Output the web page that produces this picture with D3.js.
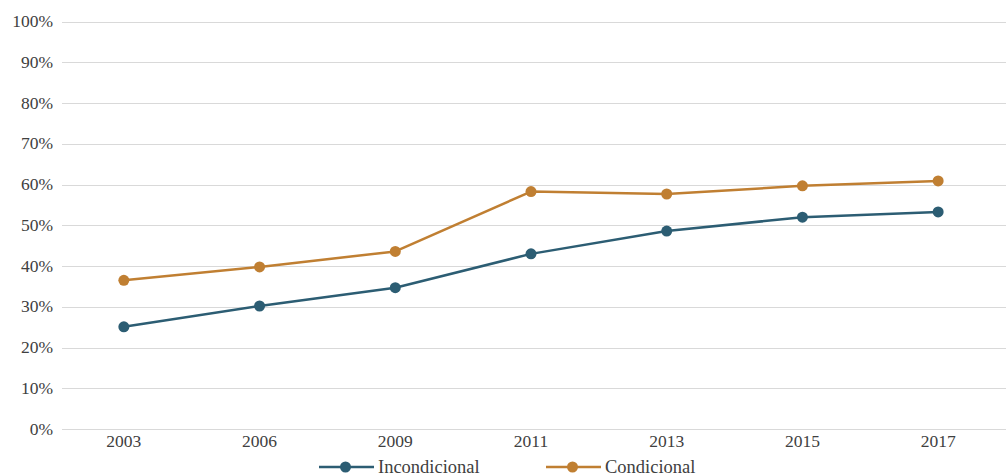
<!DOCTYPE html>
<html>
<head>
<meta charset="utf-8">
<script src="https://cdn.jsdelivr.net/npm/d3@7"></script>
<style>
  body { margin: 0; background: #fff; }
  svg { display: block; }
</style>
</head>
<body>
<svg id="chart" width="1007" height="476" font-family="'Liberation Serif', 'Times New Roman', Times, serif"></svg>
<script>
const years = ["2003", "2006", "2009", "2011", "2013", "2015", "2017"];
const incondicional = [25.1, 30.2, 34.7, 43.0, 48.6, 52.0, 53.3];
const condicional = [36.5, 39.8, 43.6, 58.3, 57.7, 59.7, 60.9];
const yTicks = [0, 10, 20, 30, 40, 50, 60, 70, 80, 90, 100];
const seriesNames = ["Incondicional", "Condicional"];
const seriesColors = ["#2c5d73", "#c07f32"];

const svg = d3.select("#chart");
const textColor = "#404040";
const x = d3.scaleBand().domain(years).range([56, 1006]);
const y = d3.scaleLinear().domain([0, 100]).range([429, 21.7]);
const gridLeft = 62, gridRight = 1006;

// gridlines
svg.append("g").selectAll("line").data(yTicks).join("line")
  .attr("x1", gridLeft).attr("x2", gridRight)
  .attr("y1", d => Math.round(y(d)) + 0.5).attr("y2", d => Math.round(y(d)) + 0.5)
  .attr("stroke", "#d9d9d9").attr("stroke-width", 1);

// y labels
svg.append("g").selectAll("text").data(yTicks).join("text")
  .attr("x", 53).attr("y", d => y(d) + 5.5)
  .attr("text-anchor", "end")
  .attr("font-size", 17.5).attr("fill", textColor)
  .text(d => d + "%");

// x labels
svg.append("g").selectAll("text").data(years).join("text")
  .attr("x", d => x(d) + x.bandwidth() / 2).attr("y", 447)
  .attr("text-anchor", "middle").attr("font-size", 17.5).attr("fill", textColor)
  .text(d => d);

const series = [incondicional, condicional];
const line = d3.line().x((d, i) => x(years[i]) + x.bandwidth() / 2).y(d => y(d));

series.forEach((vals, s) => {
  svg.append("path").datum(vals)
    .attr("d", line).attr("fill", "none")
    .attr("stroke", seriesColors[s]).attr("stroke-width", 2.5)
    .attr("stroke-linejoin", "round");
  svg.append("g").selectAll("circle").data(vals).join("circle")
    .attr("cx", (d, i) => x(years[i]) + x.bandwidth() / 2)
    .attr("cy", d => y(d)).attr("r", 5.5)
    .attr("fill", seriesColors[s]);
});

// legend
const legendX = [319, 546];
const legendY = 467;
seriesNames.forEach((name, s) => {
  const g = svg.append("g").attr("transform", `translate(${legendX[s]},${legendY})`);
  g.append("line").attr("x1", 0).attr("x2", 55).attr("y1", 0).attr("y2", 0)
    .attr("stroke", seriesColors[s]).attr("stroke-width", 2.5);
  g.append("circle").attr("cx", 26.5).attr("cy", 0).attr("r", 5.5).attr("fill", seriesColors[s]);
  g.append("text").attr("x", 59).attr("y", 5.5)
    .attr("font-size", 18.5).attr("fill", textColor).text(name);
});
</script>
</body>
</html>
